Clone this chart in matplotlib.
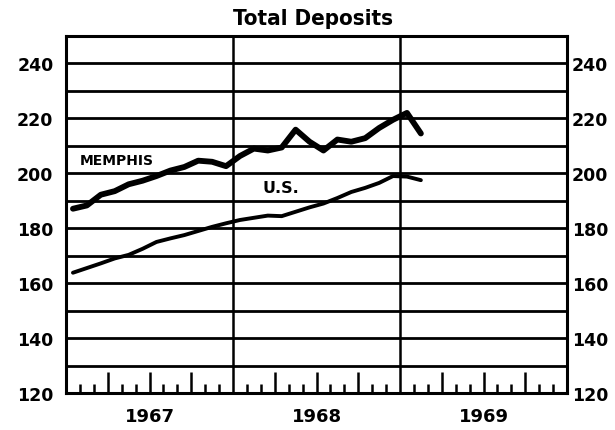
import matplotlib
matplotlib.use("Agg")
import matplotlib.pyplot as plt
import numpy as np
from matplotlib.ticker import FixedLocator, NullFormatter
from matplotlib import font_manager

# ---- data (monthly, Jan 1967 - Feb 1969) ----
memphis = [187.1, 188.3, 192.2, 193.5, 196.0, 197.3, 199.0, 201.0, 202.3, 204.6,
           204.2, 202.6, 206.3, 209.0, 208.3, 209.4, 215.9, 211.5, 208.3, 212.3,
           211.5, 212.8, 216.5, 219.5, 222.0, 214.5]
us = [163.8, 165.5, 167.2, 169.0, 170.3, 172.5, 175.0, 176.3, 177.5, 179.0,
      180.5, 181.8, 183.0, 183.8, 184.6, 184.4, 186.0, 187.6, 189.0, 191.0,
      193.2, 194.7, 196.5, 199.0, 198.8, 197.5]
years = ["1967", "1968", "1969"]
y_labels = [120, 140, 160, 180, 200, 220, 240]
title = "Total Deposits"

# find a condensed bold font for the title if one is installed
title_family = None
for f in font_manager.fontManager.ttflist:
    n = f.name.lower()
    st = str(f.stretch).lower()
    if (("condensed" in n or "narrow" in n or "condensed" in st)
            and (f.weight in ("bold", 700, "heavy", "black", 800, 900)
                 or (isinstance(f.weight, int) and f.weight >= 700))):
        title_family = f.name
        title_stretch = f.stretch
        break

fig = plt.figure(figsize=(6.15, 4.31), dpi=100)
ax = fig.add_axes([66/615, 37/431, (567-66)/615, (394-37)/431])

months = np.arange(len(memphis)) + 0.5
ax.set_xlim(0, 36)
ax.set_ylim(120, 250)

# grid lines
for v in range(130, 250, 10):
    ax.axhline(v, color="black", lw=2.0, zorder=1)
for x in (12, 24):
    ax.axvline(x, color="black", lw=1.8, zorder=1)

ax.plot(months, memphis, color="black", lw=4.2, solid_capstyle="round",
        solid_joinstyle="round", zorder=3)
ax.plot(months, us, color="black", lw=2.8, solid_capstyle="round",
        solid_joinstyle="round", zorder=3)

for s in ax.spines.values():
    s.set_linewidth(2.2)

# y labels left
ax.set_yticks(y_labels)
ax.set_yticklabels([str(v) for v in y_labels], fontweight="bold")
ax.tick_params(axis="y", which="both", length=0, labelsize=12.5, pad=9)

# y labels right
ax2 = ax.twinx()
ax2.set_ylim(ax.get_ylim())
ax2.set_yticks(y_labels)
ax2.set_yticklabels([str(v) for v in y_labels], fontweight="bold")
ax2.tick_params(axis="y", which="both", length=0, labelsize=12.5, pad=3.5)
for s in ax2.spines.values():
    s.set_visible(False)

# x ticks: quarterly (tall) and monthly (short), inward
quarters = [q for q in range(3, 36, 3) if q % 12 != 0]
month_ticks = [m for m in range(1, 36) if m % 3 != 0]
ax.xaxis.set_major_locator(FixedLocator(quarters))
ax.xaxis.set_minor_locator(FixedLocator(month_ticks))
ax.xaxis.set_major_formatter(NullFormatter())
ax.tick_params(axis="x", which="major", direction="in", length=15, width=1.8,
               top=False, bottom=True)
ax.tick_params(axis="x", which="minor", direction="in", length=6.5, width=1.8,
               top=False, bottom=True)

for i, yr in enumerate(years):
    ax.text(i * 12 + 6, -0.065, yr, transform=ax.get_xaxis_transform(),
            ha="center", va="center", fontsize=13, fontweight="bold")

ax.text(1.0, 205, "MEMPHIS", fontsize=10, fontweight="bold", ha="left",
        va="center", zorder=4)
ax.text(14.15, 194.8, "U.S.", fontsize=11.5, fontweight="bold", ha="left",
        va="center", zorder=4)

if title_family is not None:
    fig.text(313/615, 1 - 19/431, title, ha="center", va="center", fontsize=16,
             fontweight="bold", fontstretch=title_stretch,
             family=[title_family, "DejaVu Sans"])
else:
    fig.text(313/615, 1 - 19/431, title, ha="center", va="center", fontsize=15,
             fontweight="bold", fontstretch="condensed",
             family=["DejaVu Sans"])

fig.savefig("out.png", dpi=100)
